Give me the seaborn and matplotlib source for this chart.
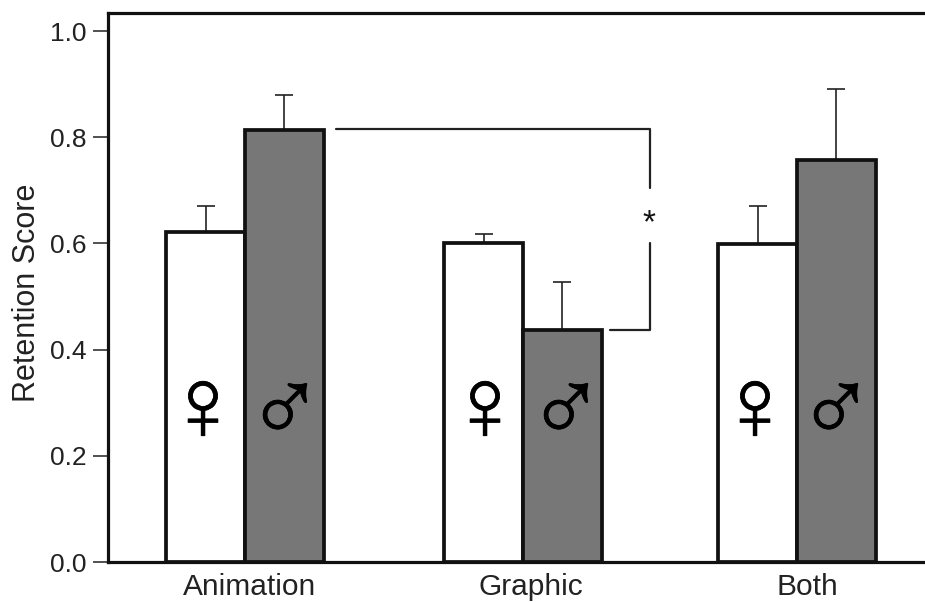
import numpy as np
import pandas as pd
import matplotlib
matplotlib.use("Agg")
import matplotlib.pyplot as plt
import matplotlib.patheffects as pe
import seaborn as sns

groups = ["Animation", "Graphic", "Both"]
female_vals = [0.622, 0.600, 0.598]
male_vals = [0.813, 0.437, 0.758]
female_err = [0.048, 0.018, 0.072]
male_err = [0.066, 0.090, 0.132]
y_ticks = [0.0, 0.2, 0.4, 0.6, 0.8, 1.0]

sns.set_theme(style="white")
plt.rcParams["font.family"] = ["Liberation Sans", "DejaVu Sans"]

# x axis runs in figure pixels, the groups are not evenly spaced in the original
group_x = [245, 523, 797]
label_x = [250, 531, 807]
symbol_x = [203, 285, 485, 566, 755, 836]

df = pd.DataFrame({
    "x": group_x * 2,
    "score": female_vals + male_vals,
    "sex": ["F"] * 3 + ["M"] * 3,
})

fig = plt.figure(figsize=(9.25, 6.02), dpi=100)
ax = fig.add_axes([108 / 925, 40 / 602, 817 / 925, 549 / 602])

sns.barplot(data=df, x="x", y="score", hue="sex", native_scale=True,
            palette={"F": "white", "M": "#777777"}, saturation=1, width=0.575,
            errorbar=None, edgecolor="#111111", linewidth=2.7, legend=False,
            zorder=3, ax=ax)

# upper error bars only, off the finished bars
bars = sorted(ax.patches, key=lambda b: b.get_x())
errs = [female_err[0], male_err[0], female_err[1], male_err[1], female_err[2], male_err[2]]
for b, e in zip(bars, errs):
    cx = b.get_x() + b.get_width() / 2
    ax.errorbar(cx, b.get_height(), yerr=[[0], [e]], color="#222222", elinewidth=1.2,
                capsize=6.5, capthick=1.2, zorder=2)

ax.set_xlim(108, 925)
ax.set_ylim(0, 1.034)
ax.set_xticks(label_x)
ax.set_xticklabels(groups)
ax.set_yticks(y_ticks)
ax.set_yticklabels([f"{t:.1f}" for t in y_ticks])
ax.tick_params(axis="x", length=0, labelsize=21.5, pad=8, colors="#222222")
ax.tick_params(axis="y", length=10.5, width=1.2, labelsize=19, pad=5, left=True,
               color="#333333", labelcolor="#222222")
ax.set_xlabel("")
ax.set_ylabel("Retention Score", fontsize=22, color="#222222")
ax.yaxis.set_label_coords(-0.081, 0.49)

for s in ["left", "top", "bottom"]:
    ax.spines[s].set_linewidth(2.3)
    ax.spines[s].set_color("#111111")
ax.spines["right"].set_visible(False)

# sex symbols, with the soft shadow of the original
symbol_fx = [pe.SimpleLineShadow(offset=(1, -1), alpha=0.35, shadow_color="black"),
             pe.withStroke(linewidth=0.5, foreground="black")]
for sx, sym in zip(symbol_x, ["\u2640", "\u2642"] * 3):
    sy = 0.28 if sym == "\u2640" else 0.276
    t = ax.text(sx, sy, sym, family="Liberation Sans",
                fontsize=75, ha="center", va="center", color="black", zorder=5)
    t.set_path_effects(symbol_fx)

# significance bracket
ax.plot([336, 650, 650], [0.815, 0.815, 0.704], color="#222222", lw=1.6, zorder=4)
ax.plot([650, 650, 610], [0.600, 0.437, 0.437], color="#222222", lw=1.6, zorder=4)
ax.text(649, 0.637, "*", fontsize=24, ha="center", va="center", color="#111111")

plt.savefig("out.png", dpi=100)
